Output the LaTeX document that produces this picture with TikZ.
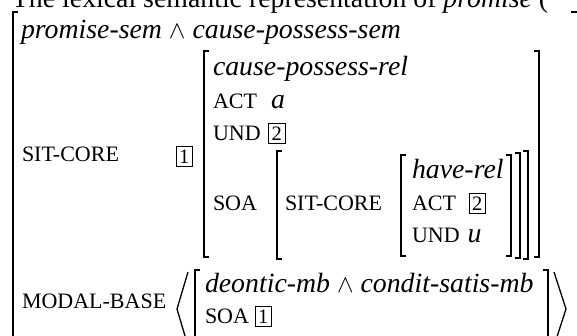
\documentclass[tikz,border=0pt]{standalone}
\usepackage{fontspec}
\setmainfont{Liberation Serif}
\usetikzlibrary{positioning}

\begin{document}
\begin{tikzpicture}[x=1pt,y=-1pt,
        every node/.style={inner sep=0pt,outer sep=0pt,font=\fontsize{27.8}{32}\selectfont},
        feat/.style={anchor=base west},
        attr/.style={anchor=base west,font=\fontsize{22}{26}\selectfont},
        tag/.style={draw,line width=0.7pt,inner sep=3pt,anchor=base west,font=\fontsize{20.5}{24}\selectfont},
        brack/.style={line width=1.3pt},
        ]
        \useasboundingbox (0,0) rectangle (577,335);
        \clip (0,0) rectangle (577,335);

        % the caption line, cut off at the top
        \node[feat] (head) at (12,7) {The lexical semantic representation of \textit{promise} (};

        % the outer matrix
        \node[feat] (type) at (21,38) {\textit{promise-sem} $\wedge$ \textit{cause-possess-sem}};
        \node[attr] (sitcore) at (22,161) {SIT-CORE};
        \node[tag] (tagA) at (176,163) {1};
        \node[attr] (modal) at (22,308) {MODAL-BASE};

        % the cause-possess-rel matrix
        \node[feat] (rel) at (213,75) {\textit{cause-possess-rel}};
        \node[attr] (act) at (213,108) {ACT};
        \node[feat] (actval) [right=14pt of act.base east,anchor=base west] {\textit{a}};
        \node[attr] (und) at (213,140) {UND};
        \node[tag] (tagB) [right=8pt of und.base east,anchor=base west] {2};
        \node[attr] (soa) at (213,210) {SOA};

        % the value of SOA
        \node[attr] (sitcore2) at (285,210) {SIT-CORE};
        \node[feat] (have) at (412,178) {\textit{have-rel}};
        \node[attr] (act2) at (412,210) {ACT};
        \node[tag] (tagC) [right=13pt of act2.base east,anchor=base west] {2};
        \node[attr] (und2) at (412,242) {UND};
        \node[feat] (undval) [right=8pt of und2.base east,anchor=base west] {\textit{u}};

        % the modal base list
        \node[feat] (mb) at (205,292) {\textit{deontic-mb} $\wedge$ \textit{condit-satis-mb}};
        \node[attr] (soa2) at (205,323) {SOA};
        \node[tag] (tagD) [right=6pt of soa2.base east,anchor=base west] {1};

        % the brackets
        \draw[brack] (18,12) -- (13,12) -- (13,345);
        \draw[brack] (571,12) -- (579,12) -- (579,345);
        \draw[brack] (209,51) -- (204,51) -- (204,257) -- (209,257);
        \draw[brack] (534,51) -- (539,51) -- (539,257) -- (534,257);
        \draw[brack] (282,151) -- (277,151) -- (277,259) -- (282,259);
        \draw[brack] (523,151) -- (528,151) -- (528,259) -- (523,259);
        \draw[brack] (515,153) -- (520,153) -- (520,258) -- (515,258);
        \draw[brack] (406,155) -- (401,155) -- (401,256) -- (406,256);
        \draw[brack] (506,155) -- (511,155) -- (511,256) -- (506,256);
        \draw[brack] (200,270) -- (195,270) -- (195,345);
        \draw[brack] (543,270) -- (548,270) -- (548,345);
        \draw[brack] (188,272) -- (177,309) -- (188,346);
        \draw[brack] (554,272) -- (566,309) -- (554,346);
\end{tikzpicture}
\end{document}
